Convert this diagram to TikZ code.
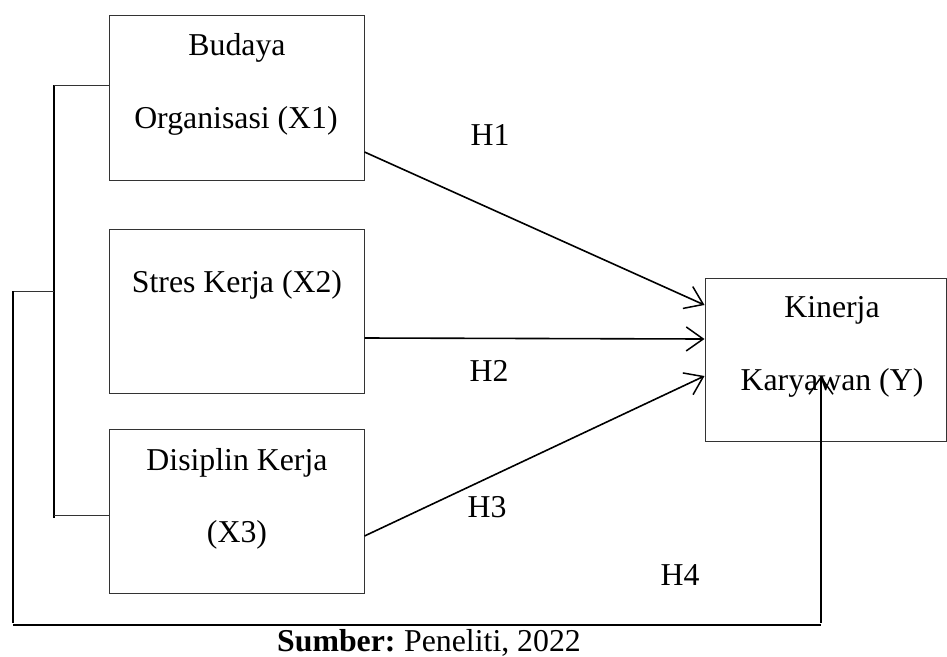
\documentclass[tikz,border=0pt]{standalone}
\usepackage{fontspec}
\setmainfont{Liberation Serif}
\usetikzlibrary{arrows.meta}
\begin{document}
\begin{tikzpicture}[x=1pt,y=-1pt,
  box/.style={draw=black!80,line width=1pt,inner sep=0pt},
  txt/.style={anchor=base,inner sep=0pt,font=\fontsize{31.8}{36}\selectfont},
  conn/.style={line width=1.6pt,-{Straight Barb[length=17pt,width=24pt,line width=1.5pt]}},
  brk/.style={line width=1.8pt},
  thin/.style={line width=1pt,draw=black!80}]
\useasboundingbox (0,0) rectangle (947,656);
% boxes
\node[box,minimum width=255pt,minimum height=165pt] (x1) at (236.5,97.5) {};
\node[box,minimum width=255pt,minimum height=164pt] (x2) at (236.5,311) {};
\node[box,minimum width=255pt,minimum height=164pt] (x3) at (236.5,511) {};
\node[box,minimum width=241pt,minimum height=163pt] (y) at (825.5,359.5) {};
% texts
\node[txt] (t1a) at (237,55) {Budaya};
\node[txt] (t1b) at (236,128) {Organisasi (X1)};
\node[txt] (t2) at (237,292) {Stres Kerja (X2)};
\node[txt] (t3a) at (237,470) {Disiplin Kerja};
\node[txt] (t3b) at (237,542) {(X3)};
\node[txt] (tya) at (832,317) {Kinerja};
\node[txt] (tyb) at (832,390) {Karyawan (Y)};
\node[txt] (h1) at (490,145) {H1};
\node[txt] (h2) at (489,381) {H2};
\node[txt] (h3) at (487,517) {H3};
\node[txt] (h4) at (680,585) {H4};
\node[txt] (cap) at (429,651) {\textbf{Sumber:}\hspace{-2pt} Peneliti, 2022};
% arrows
\draw[conn] (x1.east |- 0,152) -- (y.west |- 0,305);
\draw[conn] (x2.east |- 0,338) -- (y.west |- 0,339);
\draw[conn] (x3.east |- 0,536) -- (y.west |- 0,376);
% inner bracket
\coordinate (i1) at (54,85);
\coordinate (i2) at (54,518);
\draw[brk] (i1) -- (i2);
\draw[thin] (i1) -- (x1.west |- i1);
\draw[thin] (54,515) -- (x3.west |- 0,515);
% outer bracket
\coordinate (o1) at (13,291);
\coordinate (o2) at (13,623);
\coordinate (o3) at (821,625);
\coordinate (o4) at (821,623);
\draw[thin] (o1) -- (54,291);
\draw[brk] (o1) -- (o2);
\draw[line width=2pt] (13,625) -- (o3);
\draw[conn] (o4) -- (821,376);
\end{tikzpicture}
\end{document}
